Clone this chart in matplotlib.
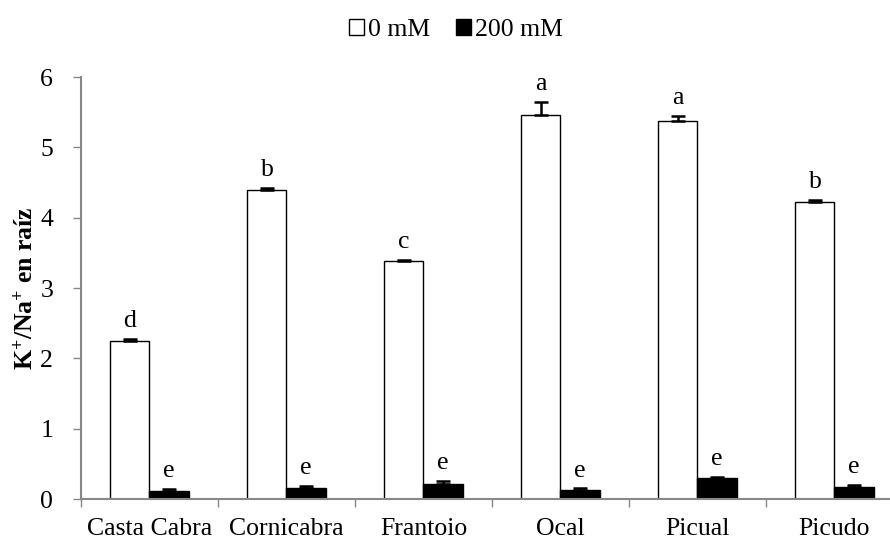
import matplotlib
matplotlib.use("Agg")
import matplotlib.pyplot as plt
import numpy as np
from matplotlib.patches import Patch

categories = ["Casta Cabra", "Cornicabra", "Frantoio", "Ocal", "Picual", "Picudo"]
series_names = ["0 mM", "200 mM"]
vals_0 = [2.25, 4.40, 3.38, 5.46, 5.38, 4.22]
err_0 = [0.03, 0.02, 0.02, 0.18, 0.07, 0.03]
vals_200 = [0.11, 0.15, 0.22, 0.13, 0.30, 0.17]
err_200 = [0.03, 0.03, 0.03, 0.02, 0.02, 0.03]
letters_0 = ["d", "b", "c", "a", "a", "b"]
letters_200 = ["e", "e", "e", "e", "e", "e"]
ylabel = "K$^{+}$/Na$^{+}$ en raíz"

plt.rcParams['font.family'] = ['Liberation Serif', 'DejaVu Serif']
plt.rcParams['mathtext.fontset'] = 'custom'
plt.rcParams['mathtext.rm'] = 'Liberation Serif:bold'
plt.rcParams['mathtext.bf'] = 'Liberation Serif:bold'
plt.rcParams['mathtext.it'] = 'Liberation Serif:italic'

FS = 18.5

fig = plt.figure(figsize=(8.90, 5.41), dpi=100)
ax = fig.add_axes([0.091, 0.0776, 0.9236, 0.78])

x = np.arange(len(categories))
w = 0.285
ekw = dict(elinewidth=1.8, capthick=1.8, ecolor="black")
ax.bar(x - w/2, vals_0, w, color="white", edgecolor="black", linewidth=1.0,
       yerr=[np.zeros(len(err_0)), err_0], capsize=5, error_kw=ekw, label=series_names[0], zorder=2)
ax.bar(x + w/2, vals_200, w, color="black", edgecolor="black", linewidth=1.0,
       yerr=[np.zeros(len(err_200)), err_200], capsize=5, error_kw=ekw, label=series_names[1], zorder=2)

for i in range(len(categories)):
    ax.annotate(letters_0[i], (x[i] - w/2, vals_0[i] + err_0[i]), xytext=(0, 5),
                textcoords="offset points", ha="center", va="bottom", fontsize=FS)
    ax.annotate(letters_200[i], (x[i] + w/2, vals_200[i] + err_200[i]), xytext=(0, 5),
                textcoords="offset points", ha="center", va="bottom", fontsize=FS)

ax.set_xlim(-0.5, len(categories) - 0.5)
ax.set_ylim(0, 6)
ax.set_yticks(range(0, 7))
ax.set_xticks(x)
ax.set_xticklabels(categories, fontsize=FS)
ax.set_xticks(np.arange(-0.5, len(categories), 1.0), minor=True)
ax.tick_params(axis="x", which="major", length=0, pad=14)
ax.tick_params(axis="x", which="minor", length=6, width=1, color="#888888", direction="out")
ax.tick_params(axis="y", length=6, width=1, color="#888888", labelsize=FS, pad=14)

for s in ["top", "right"]:
    ax.spines[s].set_visible(False)
for s in ["left", "bottom"]:
    ax.spines[s].set_color("#888888")
    ax.spines[s].set_linewidth(1.5)

ax.set_ylabel(ylabel, fontsize=FS, fontweight="bold", labelpad=2)

handles = [Patch(facecolor="white", edgecolor="black", linewidth=1.0),
           Patch(facecolor="black", edgecolor="black", linewidth=1.0)]
fig.legend(handles, series_names, loc="center", bbox_to_anchor=(0.512, 0.945), ncol=2,
           frameon=False, fontsize=FS, handlelength=0.6, handleheight=0.6,
           handletextpad=0.15, columnspacing=1.0)

fig.savefig("out.png", dpi=100)
